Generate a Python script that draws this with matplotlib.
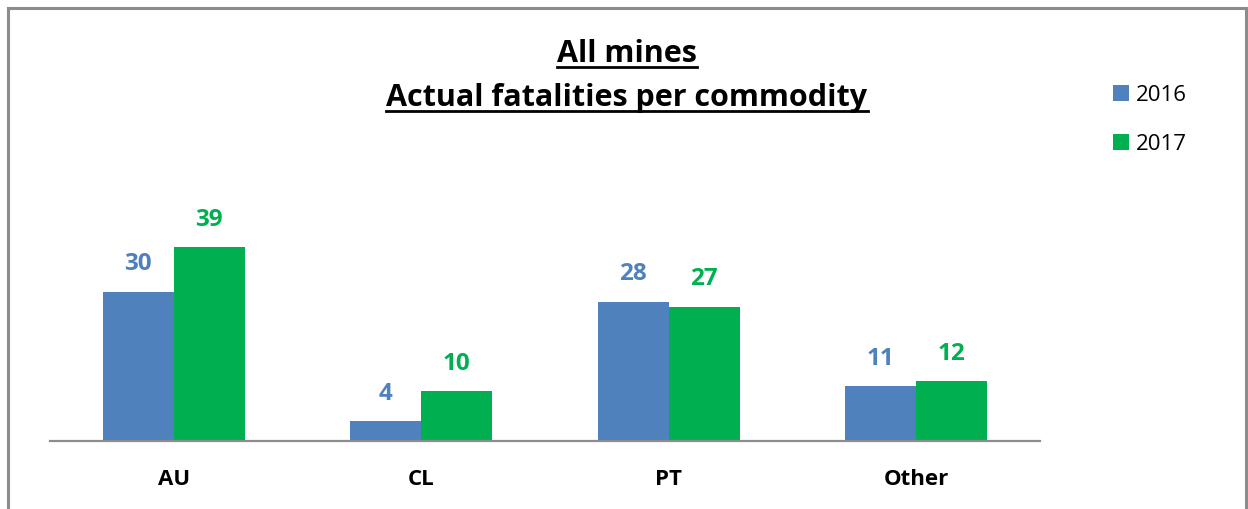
import matplotlib
matplotlib.use("Agg")
import matplotlib.pyplot as plt
from matplotlib.lines import Line2D
from matplotlib.patches import Rectangle
import numpy as np

categories = ["AU", "CL", "PT", "Other"]
series_names = ["2016", "2017"]
values_2016 = [30, 4, 28, 11]
values_2017 = [39, 10, 27, 12]
title_lines = ["All mines", "Actual fatalities per commodity"]

colors = ["#4F81BD", "#00B050"]
FONT = "Open Sans"
plt.rcParams['font.family'] = [FONT, 'DejaVu Sans']

W, H = 1248, 509
fig = plt.figure(figsize=(W / 100, H / 100), dpi=100)
ax = fig.add_axes([50 / W, 68 / H, 990 / W, 224 / H])

x = np.arange(len(categories))
bw = 0.287
b1 = ax.bar(x - bw / 2, values_2016, bw, color=colors[0], label=series_names[0])
b2 = ax.bar(x + bw / 2, values_2017, bw, color=colors[1], label=series_names[1])

for bars, col in ((b1, colors[0]), (b2, colors[1])):
    for r in bars:
        ax.annotate(f"{int(r.get_height())}", (r.get_x() + r.get_width() / 2, r.get_height()),
                    xytext=(0, 11), textcoords="offset points", ha="center", va="bottom",
                    fontsize=17.5, fontweight="bold", color=col)

ax.set_xlim(-0.5, len(categories) - 0.5)
ax.set_ylim(0, 45)
ax.set_xticks(x)
ax.set_xticklabels(categories, fontsize=16, fontweight="bold")
ax.tick_params(axis="x", length=0, pad=20)
ax.set_yticks([])
for s in ["top", "right", "left"]:
    ax.spines[s].set_visible(False)
ax.spines["bottom"].set_color("#8C8C8C")
ax.spines["bottom"].set_linewidth(1.6)

# legend
leg = fig.legend(handles=[b1, b2], labels=series_names, loc="upper left",
                 bbox_to_anchor=(1093 / W, 1 - 65 / H), frameon=False, fontsize=16,
                 handlelength=0.7, handleheight=0.7, handletextpad=0.35, labelspacing=1.25)

# outer border
fig.patches.append(Rectangle((8 / W, -0.1), (1246 - 8) / W, (1 - 8 / H) + 0.1,
                             transform=fig.transFigure, fill=False,
                             edgecolor="#8C8C8C", linewidth=2.2))

# title with underline
baselines = [62, 106]
tx = 627 / W
texts = []
for line, by in zip(title_lines, baselines):
    t = fig.text(tx, 1 - by / H, line, ha="center", va="baseline",
                 fontsize=22, fontweight="bold", color="black")
    texts.append((t, by))

fig.canvas.draw()
renderer = fig.canvas.get_renderer()
for t, by in texts:
    bb = t.get_window_extent(renderer)
    yy = 1 - (by + 5) / H
    fig.add_artist(Line2D([bb.x0 / W, bb.x1 / W], [yy, yy], transform=fig.transFigure,
                          color="black", linewidth=2.0))

fig.savefig("out.png", dpi=100)
